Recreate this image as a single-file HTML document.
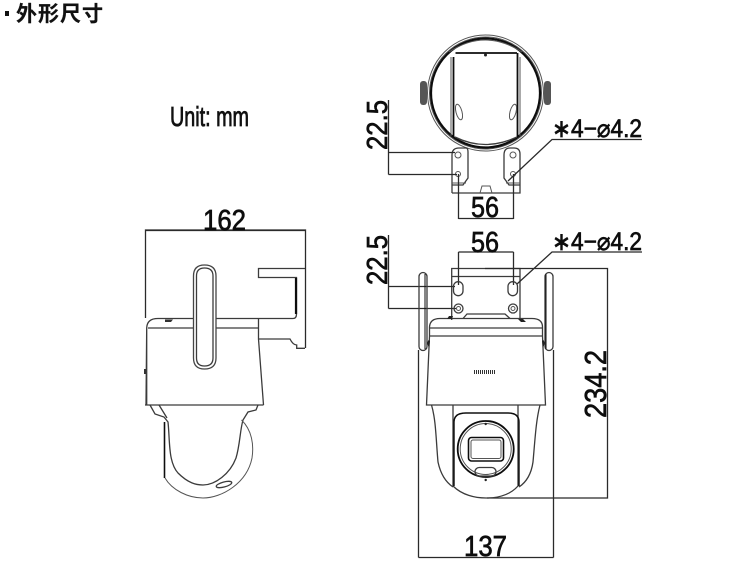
<!DOCTYPE html>
<html lang="zh">
<head>
<meta charset="utf-8">
<style>
html,body{margin:0;padding:0;background:#fff;width:750px;height:570px;overflow:hidden}
svg{display:block}
text{fill:#111;stroke:#111;stroke-width:.7;font-family:"Liberation Sans","Noto Sans CJK SC",sans-serif}
.d{fill:none;stroke:#2a2a2a;stroke-width:1.3}
.t{fill:none;stroke:#555;stroke-width:1}
.m{fill:none;stroke:#3a3a3a;stroke-width:1.3}
.k{fill:none;stroke:#111;stroke-width:2.200}
</style>
</head>
<body>
<svg width="750" height="570" viewBox="0 0 750 570" xmlns="http://www.w3.org/2000/svg">
<filter id="b"><feGaussianBlur stdDeviation="0.25"/></filter>
<rect x="5" y="11" width="4" height="5" fill="#111"/>
<text x="16" y="21" font-size="21" font-weight="700" textLength="87" lengthAdjust="spacing" style="font-family:'Noto Sans CJK SC',sans-serif;stroke-width:.2">外形尺寸</text>
<text x="170" y="126" font-size="28" textLength="79" lengthAdjust="spacingAndGlyphs" style="stroke-width:.8">Unit: mm</text>

<g filter="url(#b)">
<!-- TOP VIEW -->
<circle cx="485.500" cy="93" r="58" class="t"/>
<circle cx="485.500" cy="93" r="56" class="t"/>
<circle cx="485.500" cy="93" r="54.500" class="k"/>
<path class="t" d="M449 52Q485 28 522 52"/>
<path class="k" d="M455.500 53H517M453.500 57V136M517.500 53V136" style="stroke-width:1.800"/>
<path class="t" d="M451 57V136M520 57V136"/>
<path class="m" d="M455 137Q485 152 517 137"/>
<circle cx="485.500" cy="55" r="1.500" fill="#222"/>
<ellipse cx="459" cy="112" rx="3" ry="8" class="t" transform="rotate(-15 459 112)"/>
<ellipse cx="513" cy="112" rx="3" ry="8" class="t" transform="rotate(15 513 112)"/>
<rect x="420" y="81" width="7" height="24" rx="3" fill="#555"/>
<rect x="544" y="81" width="7" height="24" rx="3" fill="#555"/>
<path class="m" d="M452 193V155Q452 148 459 148H466Q468 148 468 152V178L463 185H452M452 193H520V185H509L504 178V155Q504 148 510 148H514Q520 148 520 154V193"/>
<path class="t" d="M452 183H466M506 183H520M480 193L482 186H490L492 193"/>
<circle cx="458" cy="155" r="3" class="t"/><circle cx="513" cy="155" r="3" class="t"/>
<circle cx="458" cy="174" r="2.500" class="t"/><circle cx="513" cy="174" r="2.500" class="t"/>
<path class="d" d="M388.500 100V174.500M388.500 152.500H455M388.500 174.500H457M458.500 174V219M513.500 174V219M458.500 218.500H513.500M508 181L552 139.500H642"/>
<text font-size="29" transform="translate(387 150) rotate(-90)" textLength="50" lengthAdjust="spacingAndGlyphs">22.5</text>
<text x="471" y="217" font-size="29" textLength="28" lengthAdjust="spacingAndGlyphs">56</text>
<text x="552" y="137" font-size="25" textLength="90" lengthAdjust="spacingAndGlyphs">∗4−⌀4.2</text>

<!-- FRONT VIEW -->
<path class="m" d="M451.700 320V268.500H520V320M451.700 276.500H520"/>
<path class="d" d="M485 268.500H607.500V498H487M418.500 350V557.500M553.500 350V557.500M418.500 557.500H553.500M458.500 285V252M513.500 285V252M458.500 252H513.500M388.500 235V308.500M388.500 286.500H455M388.500 308.500H456M517 284L552 252H642"/>
<rect x="419" y="272.500" width="8" height="78" rx="4" class="m"/>
<rect x="545" y="272.500" width="8" height="78" rx="4" class="m"/>
<path class="k" d="M425 274V349M546 274V349" style="stroke-width:1"/>
<rect x="453.500" y="281.700" width="9.500" height="14" rx="4.700" class="m"/><rect x="508" y="281.700" width="9.500" height="14" rx="4.700" class="m"/>
<circle cx="458.500" cy="308.500" r="4.500" class="m"/><circle cx="513" cy="308.500" r="4.500" class="m"/>
<circle cx="458.500" cy="308.500" r="2" class="t"/><circle cx="513" cy="308.500" r="2" class="t"/>
<path class="m" d="M463 318.500L467 314H505L510 318.500"/>
<path class="m" d="M429.500 336V327Q430 318.500 440 318.500H532Q542.500 318.500 542.500 327V336"/>
<path class="m" d="M429.500 328H542.500M429.500 336H542.500M429.500 336L426.500 405H545.500L542.500 336"/>
<path fill="#222" d="M427 343l1.500-3 1.500 1-1 7zM545 343l-1.500-3-1.500 1 1 7zM447 319l2-3 4 0-1 3zM518 319l5 0 3 3-5 0z"/>
<path d="M474 372H496" stroke="#333" stroke-width="4" stroke-dasharray="1 1"/>
<path class="m" d="M431.500 405C436 420 436 440 438 462C441 476 447 483 453 487M540 405C536 420 535 440 533 462C531 476 525 483 519 487"/>
<path class="m" d="M453 405V486C462 495 475 498 486 498C498 498 510 495 518 486V405"/>
<path class="k" d="M454 486V422Q454 413 466 413H508Q519 413 519 422V486" style="stroke-width:1.400"/>
<circle cx="485.700" cy="449" r="28" class="k" style="stroke-width:1.800"/>
<circle cx="485.700" cy="449" r="25.500" class="t"/>
<rect x="468.500" y="437.500" width="35" height="23.500" rx="3" class="k" style="stroke-width:1.600"/>
<rect x="471" y="440" width="30" height="18.500" rx="2" class="t"/>
<rect x="475" y="467.500" width="21" height="8.500" rx="4.200" class="m"/>
<circle cx="485.700" cy="424" r="1.200" fill="#222"/><circle cx="485.700" cy="480" r="1.200" fill="#222"/>
<text x="464" y="556" font-size="29" textLength="43" lengthAdjust="spacingAndGlyphs">137</text>
<text x="552" y="250" font-size="25" textLength="90" lengthAdjust="spacingAndGlyphs">∗4−⌀4.2</text>
<text x="471" y="252" font-size="29" textLength="28" lengthAdjust="spacingAndGlyphs">56</text>
<text font-size="29" transform="translate(387 285) rotate(-90)" textLength="50" lengthAdjust="spacingAndGlyphs">22.5</text>
<text font-size="31" transform="translate(606 418) rotate(-90)" textLength="68" lengthAdjust="spacingAndGlyphs">234.2</text>

<!-- SIDE VIEW -->
<path class="d" d="M145.500 318V230H305.500V348M145.500 230.500H305"/>
<text x="203" y="230" font-size="29" textLength="43" lengthAdjust="spacingAndGlyphs">162</text>
<path class="m" d="M216 318.500H293Q296.500 318.500 296.500 314V277.500H258.500V268.500H305"/>
<path class="k" d="M296 278V314"/>
<path class="m" d="M216 328H258.500V339H290Q293 345 296.700 345V348.300H305M258.500 318.500V339M146.700 405V328Q147 318.500 158 318.500H193M146 405L146.700 328M193 328H148M258.500 339L263.500 405"/>
<path fill="#333" d="M165 319.500h8l-2 2.500h-6z"/>
<rect x="144" y="369" width="2" height="5" fill="#333"/>
<path class="m" d="M145 405H263.500"/>
<path fill="#fff" stroke="#444" stroke-width="1.300" d="M193.500 358V276Q193.500 265 204.500 265Q216 265 216 276V358Q216 369 204.500 369Q193.500 369 193.500 358Z"/>
<path class="m" d="M196.500 358V276Q196.500 268 204.500 268Q213 268 213 276V358Q213 366 204.500 366Q196.500 366 196.500 358Z"/>
<path class="m" d="M150 405L155 414L164 417L168 422C170 440 168 462 178 473C188 483 196 485 203 485C215 485 230 474 236 458C240 445 240 430 243 420L248 412L256 410L258 405M159 405L167 418"/>
<path class="k" d="M164.500 422V478" style="stroke-width:1.600"/>
<path class="t" d="M241.500 420C252 430 254 445 252 458C247 483 222 498 203 498C188 498 172 490 165 478"/>
<ellipse cx="224" cy="484.500" rx="8" ry="2.500" class="m" transform="rotate(-15 224 484.500)"/>
</g>
</svg>
</body>
</html>
